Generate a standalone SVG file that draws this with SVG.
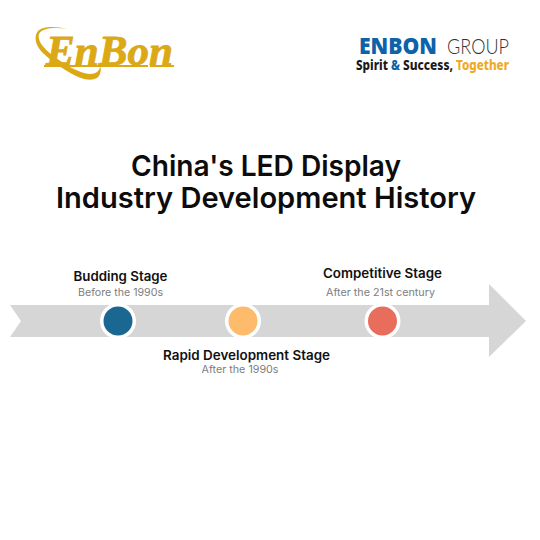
<svg xmlns="http://www.w3.org/2000/svg" width="540" height="540" viewBox="0 0 540 540">
<style>
.h{font-family:Inter,"Open Sans",sans-serif;font-weight:600;font-size:29px;fill:#0c0c0c;text-anchor:middle}
.t{font-family:Inter,"Open Sans",sans-serif;font-weight:600;font-size:13px;fill:#111;text-anchor:middle}
.s{font-family:Inter,"Open Sans",sans-serif;font-weight:400;font-size:10.5px;fill:#7d7d7d;text-anchor:middle}
.d{stroke:#fff;stroke-width:3.500}
.g{font-family:"Noto Sans","Open Sans",sans-serif;font-weight:800;font-size:13.500px}
</style>
<rect width="540" height="540" fill="#fff"/>
<g id="logo-enbon">
<path d="M68 29C55 26 43 26 38 31C33 37 36 47 44 54C54 63 68 73 81 78C90 81 98 80 100 74C101 71 101 68 100 66C100 70 97 74 90 74C80 74 64 64 52 55C43 48 37 40 39 34C42 28 54 27 68 29Z" fill="#dba816"/>
<text x="46" y="65" font-family="Liberation Serif,serif" font-weight="700" font-style="italic" font-size="42" fill="#dba816" stroke="#dba816" stroke-width=".8" textLength="127" lengthAdjust="spacingAndGlyphs">EnBon</text>
<path d="M44 66H148M150 66H174" stroke="#dba816" stroke-width="2"/>
</g>
<g id="logo-group">
<text x="359" y="54" font-family="Open Sans,sans-serif" font-weight="800" font-size="22" fill="#0d62a8" textLength="78" lengthAdjust="spacingAndGlyphs">ENBON</text>
<text x="447" y="54" font-family="Lato,sans-serif" font-weight="300" font-size="22" fill="#333" textLength="62" lengthAdjust="spacingAndGlyphs">GROUP</text>
<text class="g" x="356" y="70" fill="#1a1a1a" textLength="32" lengthAdjust="spacingAndGlyphs">Spirit</text>
<text class="g" x="391" y="70" fill="#0d62a8" textLength="9" lengthAdjust="spacingAndGlyphs">&amp;</text>
<text class="g" x="403" y="70" fill="#1a1a1a" textLength="50" lengthAdjust="spacingAndGlyphs">Success,</text>
<text class="g" x="456" y="70" fill="#eeaa22" textLength="53" lengthAdjust="spacingAndGlyphs">Together</text>
</g>
<g id="title">
<text class="h" x="266" y="176" textLength="270" lengthAdjust="spacingAndGlyphs">China's LED Display</text>
<text class="h" x="266" y="208" textLength="420" lengthAdjust="spacingAndGlyphs">Industry Development History</text>
</g>
<g id="timeline-arrow">
<path d="M10 305H489V284L526 321L489 357V337H10L21 321Z" fill="#d6d6d6"/>
</g>
<g id="node-budding">
<circle class="d" cx="118" cy="321" r="16.250" fill="#1a6791"/>
<text class="t" x="120.500" y="281" textLength="94" lengthAdjust="spacingAndGlyphs">Budding Stage</text>
<text class="s" x="120.500" y="295.500" textLength="85" lengthAdjust="spacingAndGlyphs">Before the 1990s</text>
</g>
<g id="node-rapid">
<circle class="d" cx="243" cy="321" r="16.250" fill="#fdbb6b"/>
<text class="t" x="246.500" y="360" textLength="167" lengthAdjust="spacingAndGlyphs">Rapid Development Stage</text>
<text class="s" x="240" y="373" textLength="77" lengthAdjust="spacingAndGlyphs">After the 1990s</text>
</g>
<g id="node-competitive">
<circle class="d" cx="382.500" cy="321" r="16.250" fill="#e96d5c"/>
<text class="t" x="382.500" y="278" textLength="119" lengthAdjust="spacingAndGlyphs">Competitive Stage</text>
<text class="s" x="380.500" y="295.500" textLength="109" lengthAdjust="spacingAndGlyphs">After the 21st century</text>
</g>
</svg>
